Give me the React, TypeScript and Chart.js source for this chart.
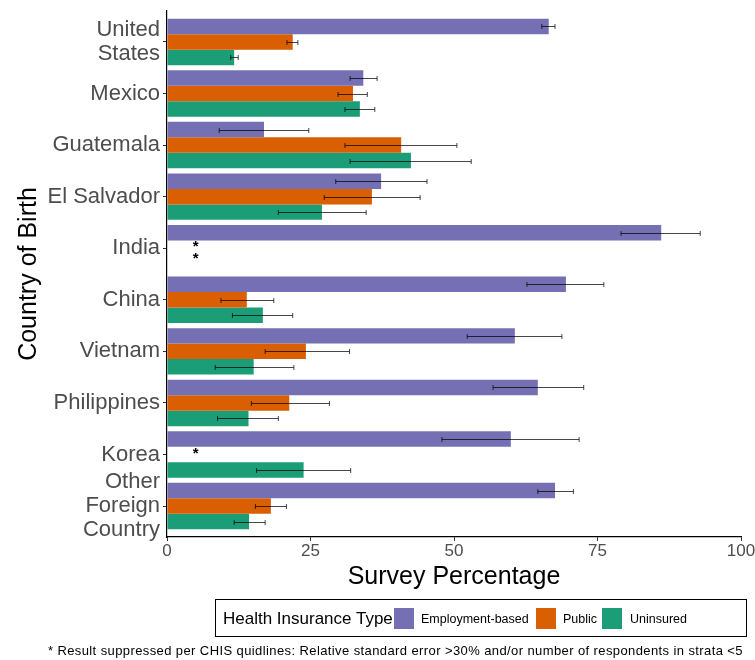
import React, { useEffect, useRef } from "react";
import { Chart, registerables } from "chart.js";

Chart.register(...registerables);

// ---------- data ----------
const countries: (string | string[])[] = [
  ["United", "States"],
  "Mexico",
  "Guatemala",
  "El Salvador",
  "India",
  "China",
  "Vietnam",
  "Philippines",
  "Korea",
  ["Other", "Foreign", "Country"],
];

const seriesNames = ["Employment-based", "Public", "Uninsured"];
const seriesColors = ["#7570b3", "#d95f02", "#1b9e77"];

const employment = [66.5, 34.2, 16.9, 37.3, 86.1, 69.5, 60.6, 64.6, 59.9, 67.6];
const employmentLow = [65.3, 31.9, 9.1, 29.4, 79.1, 62.7, 52.3, 56.8, 47.9, 64.6];
const employmentHigh = [67.6, 36.6, 24.7, 45.3, 92.9, 76.1, 68.8, 72.6, 71.8, 70.8];

const publicIns = [21.9, 32.4, 40.8, 35.7, null, 13.9, 24.2, 21.3, null, 18.1];
const publicLow = [20.9, 29.8, 31.0, 27.4, null, 9.4, 17.1, 14.7, null, 15.4];
const publicHigh = [22.8, 34.9, 50.5, 44.1, null, 18.6, 31.8, 28.3, null, 20.8];

const uninsured = [11.7, 33.6, 42.5, 27.0, null, 16.7, 15.1, 14.2, 23.8, 14.3];
const uninsuredLow = [11.1, 31.0, 31.9, 19.4, null, 11.4, 8.4, 8.8, 15.6, 11.7];
const uninsuredHigh = [12.4, 36.2, 53.0, 34.7, null, 21.9, 22.1, 19.4, 32.0, 17.1];

const xTickValues = [0, 25, 50, 75, 100];
const suppressedMarkX = 5; // x value where the "*" for suppressed results sits

const xTitle = "Survey Percentage";
const yTitle = "Country of Birth";
const legendTitle = "Health Insurance Type";
const footnote =
  "* Result suppressed per CHIS quidlines: Relative standard error >30% and/or number of respondents in strata <5";

const seriesValues = [employment, publicIns, uninsured];
const seriesLows = [employmentLow, publicLow, uninsuredLow];
const seriesHighs = [employmentHigh, publicHigh, uninsuredHigh];

// ---------- style ----------
const FONT = "'Liberation Sans', Arial, Helvetica, sans-serif";
const W = 755;
const H = 660;

const errorBarPlugin = {
  id: "errorBars",
  afterDatasetsDraw(chart: any) {
    const ctx = chart.ctx;
    const xs = chart.scales.x;
    const ys = chart.scales.y;
    ctx.save();
    ctx.strokeStyle = "rgba(0,0,0,0.72)";
    ctx.lineWidth = 1;
    chart.data.datasets.forEach((ds: any, d: number) => {
      const meta = chart.getDatasetMeta(d);
      meta.data.forEach((bar: any, k: number) => {
        const raw = ds.data[k];
        const i = raw.y;
        const lo = seriesLows[d][i];
        const hi = seriesHighs[d][i];
        if (lo == null || hi == null) return;
        const x1 = xs.getPixelForValue(lo);
        const x2 = xs.getPixelForValue(hi);
        const y = Math.round(bar.y) + 0.5;
        ctx.beginPath();
        ctx.moveTo(x1, y);
        ctx.lineTo(x2, y);
        ctx.moveTo(x1, y - 2.5);
        ctx.lineTo(x1, y + 2.5);
        ctx.moveTo(x2, y - 2.5);
        ctx.lineTo(x2, y + 2.5);
        ctx.stroke();
      });
    });
    // suppressed markers
    ctx.fillStyle = "#000";
    ctx.font = `bold 15px ${FONT}`;
    ctx.textAlign = "center";
    ctx.textBaseline = "middle";
    seriesValues.forEach((vals, d) => {
      vals.forEach((v, i) => {
        if (v != null) return;
        const cy = ys.getPixelForValue(i);
        const x = xs.getPixelForValue(suppressedMarkX);
        const y = cy + (d - 1) * 12 - 1;
        ctx.fillText("*", x, y);
      });
    });
    ctx.restore();
  },
};

export default function App() {
  const ref = useRef<HTMLCanvasElement | null>(null);

  useEffect(() => {
    if (!ref.current) return;
    const datasets = seriesNames.map((name, d) => ({
      label: name,
      data: seriesValues[d]
        .map((v, i) => ({ x: v, y: i }))
        .filter((p) => p.x != null),
      backgroundColor: seriesColors[d],
      borderWidth: 0,
      categoryPercentage: 0.9,
      barPercentage: 1,
    }));

    const chart = new Chart(ref.current, {
      type: "bar",
      data: { datasets: datasets as any },
      options: {
        indexAxis: "y",
        responsive: false,
        animation: false,
        layout: { padding: { top: 11, right: 14, bottom: H - 592, left: 0 } },
        plugins: {
          legend: { display: false },
          tooltip: { enabled: false },
        },
        scales: {
          x: {
            type: "linear",
            position: "bottom",
            min: 0,
            max: 100,
            bounds: "data",
            offset: false,
            afterFit: (s: any) => {
              s.height = 55;
              s.paddingLeft = 0;
              s.paddingRight = 0;
            },
            afterBuildTicks: (s: any) => {
              s.ticks = xTickValues.map((v) => ({ value: v }));
            },
            ticks: {
              color: "#4d4d4d",
              font: { family: FONT, size: 17 },
              padding: 0,
              maxRotation: 0,
            },
            grid: {
              offset: false,
              drawOnChartArea: false,
              drawTicks: true,
              tickLength: 4,
              color: "#333",
              lineWidth: 1,
            },
            border: { display: true, color: "#000", width: 1.2 },
            title: {
              display: true,
              text: xTitle,
              color: "#000",
              font: { family: FONT, size: 25 },
              padding: { top: 0, bottom: 0 },
            },
          },
          y: {
            type: "linear",
            position: "left",
            reverse: true,
            bounds: "data",
            offset: false,
            min: -0.6,
            max: countries.length - 1 + 0.6,
            afterFit: (s: any) => {
              s.width = 167;
              s.paddingTop = 0;
              s.paddingBottom = 0;
            },
            afterBuildTicks: (s: any) => {
              s.ticks = countries.map((_, i) => ({ value: i }));
            },
            ticks: {
              autoSkip: false,
              includeBounds: false,
              stepSize: 1,
              color: "#4d4d4d",
              font: { family: FONT, size: 22, lineHeight: 1.1 },
              padding: 3,
              callback: (v: any) => countries[v as number] as any,
            },
            grid: {
              offset: false,
              drawOnChartArea: false,
              drawTicks: true,
              tickLength: 4,
              color: "#333",
              lineWidth: 1,
            },
            border: { display: true, color: "#000", width: 1.2 },
            title: {
              display: true,
              text: yTitle,
              color: "#000",
              font: { family: FONT, size: 25 },
              padding: { top: 14, bottom: 0 },
            },
          },
        },
      },
      plugins: [errorBarPlugin],
    });
    return () => chart.destroy();
  }, []);

  const swatch = (left: number, color: string) => (
    <div
      style={{
        position: "absolute",
        left,
        top: 8,
        width: 20,
        height: 21,
        background: color,
      }}
    />
  );
  const label = (left: number, text: string, size: number) => (
    <div
      style={{
        position: "absolute",
        left,
        top: 0,
        height: 38,
        lineHeight: "38px",
        fontSize: size,
        color: "#000",
        whiteSpace: "nowrap",
      }}
    >
      {text}
    </div>
  );

  return (
    <div
      style={{
        position: "absolute",
        left: 0,
        top: 0,
        width: W,
        height: H,
        background: "#fff",
        fontFamily: FONT,
      }}
    >
      <canvas ref={ref} width={W} height={H} style={{ width: W, height: H, display: "block" }} />
      <div
        style={{
          position: "absolute",
          left: 215,
          top: 599,
          width: 530,
          height: 36,
          border: "1.5px solid #000",
          boxSizing: "content-box",
        }}
      >
        {label(7, legendTitle, 17)}
        {swatch(178, seriesColors[0])}
        {label(205, seriesNames[0], 12.5)}
        {swatch(320, seriesColors[1])}
        {label(347, seriesNames[1], 12.5)}
        {swatch(386, seriesColors[2])}
        {label(414, seriesNames[2], 12.5)}
      </div>
      <div
        style={{
          position: "absolute",
          left: 0,
          width: W - 12,
          top: 643,
          height: 16,
          lineHeight: "16px",
          textAlign: "right",
          fontSize: 13,
          letterSpacing: "0.4px",
          color: "#000",
          whiteSpace: "nowrap",
        }}
      >
        {footnote}
      </div>
    </div>
  );
}
